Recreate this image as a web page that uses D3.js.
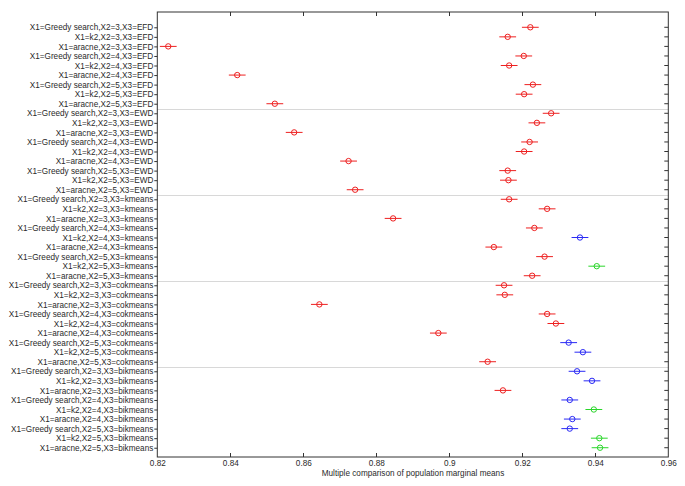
<!DOCTYPE html>
<html>
<head>
<meta charset="utf-8">
<script src="https://cdn.jsdelivr.net/npm/d3@7"></script>
<style>
  html, body { margin: 0; padding: 0; background: #fff; }
  svg { display: block; font-family: "Liberation Sans", Arial, Helvetica, sans-serif; }
</style>
</head>
<body>
<svg id="chart" width="685" height="486"></svg>
<script>
// ---- data ----
const methods = ["Greedy search", "k2", "aracne"];
const x2Values = [3, 4, 5];
const x3Values = ["EFD", "EWD", "kmeans", "cokmeans", "bikmeans"];

const means = [
  0.9222, 0.9160, 0.8230, 0.9204, 0.9164, 0.8419, 0.9229, 0.9205, 0.8522,
  0.9279, 0.9240, 0.8575, 0.9220, 0.9205, 0.8724, 0.9160, 0.9162, 0.8742,
  0.9164, 0.9268, 0.8846, 0.9233, 0.9358, 0.9122, 0.9261, 0.9404, 0.9227,
  0.9150, 0.9152, 0.8644, 0.9268, 0.9292, 0.8970, 0.9327, 0.9366, 0.9105,
  0.9350, 0.9391, 0.9147, 0.9330, 0.9396, 0.9337, 0.9330, 0.9411, 0.9413
];
const halfWidths = new Array(45).fill(0.0023);
const groupColors = [
  "r","r","r","r","r","r","r","r","r",
  "r","r","r","r","r","r","r","r","r",
  "r","r","r","r","b","r","r","g","r",
  "r","r","r","r","r","r","b","b","r",
  "b","b","r","b","g","b","b","g","g"
];
const xTicks = [0.82, 0.84, 0.86, 0.88, 0.9, 0.92, 0.94, 0.96];
const xLabel = "Multiple comparison of population marginal means";

const labels = [];
x3Values.forEach(d3v => x2Values.forEach(k => methods.forEach(m =>
  labels.push(`X1=${m},X2=${k},X3=${d3v}`))));

// ---- layout ----
const svg = d3.select("#chart");
const pL = 157.3, pR = 668.3, pT = 12, pB = 457;
const colorMap = { r: "#ee2020", b: "#2a2af5", g: "#2ad62a" };

const x = d3.scaleLinear().domain([0.82, 0.96]).range([pL, pR]);
const y = d3.scaleLinear().domain([-0.6, 45.97]).range([pT, pB]);
const rows = d3.range(1, labels.length + 1);

// group separators
svg.append("g").selectAll("line")
  .data([9.5, 18.5, 27.5, 36.5])
  .join("line")
  .attr("x1", pL).attr("x2", pR)
  .attr("y1", d => Math.round(y(d)) + 0.5).attr("y2", d => Math.round(y(d)) + 0.5)
  .attr("stroke", "#d8d8d8").attr("stroke-width", 1);

// axes
const axisColor = "#333";
const textColor = "#2a2a2a";
const bottomAxis = d3.axisBottom(x).tickValues(xTicks).tickFormat(d3.format("")).tickSize(0).tickPadding(3);
const gB = svg.append("g").attr("transform", `translate(0,${pB})`).call(bottomAxis);
gB.select(".domain").remove();
gB.selectAll("text").attr("font-size", 8.2).attr("fill", textColor);

// tick marks inside (top and bottom)
const innerTicks = xTicks.slice(1, -1);
svg.append("g").selectAll("line").data(innerTicks).join("line")
  .attr("x1", d => Math.round(x(d)) + 0.5).attr("x2", d => Math.round(x(d)) + 0.5)
  .attr("y1", pB).attr("y2", pB - 4).attr("stroke", axisColor);
svg.append("g").selectAll("line").data(innerTicks).join("line")
  .attr("x1", d => Math.round(x(d)) + 0.5).attr("x2", d => Math.round(x(d)) + 0.5)
  .attr("y1", pT).attr("y2", pT + 4).attr("stroke", axisColor);

// y axis left (ticks outward) with labels
const leftAxis = d3.axisLeft(y).tickValues(rows).tickFormat(i => labels[i - 1]).tickSize(3).tickPadding(1);
const gL = svg.append("g").attr("transform", `translate(${pL},0)`).call(leftAxis);
gL.select(".domain").remove();
gL.selectAll("line").attr("stroke", axisColor);
gL.selectAll("text").attr("font-size", 8.2).attr("fill", textColor);

// right ticks inward
svg.append("g").selectAll("line").data(rows).join("line")
  .attr("x1", pR - 4).attr("x2", pR)
  .attr("y1", d => y(d)).attr("y2", d => y(d)).attr("stroke", axisColor);

// frame
svg.append("rect")
  .attr("x", pL).attr("y", pT)
  .attr("width", pR - pL).attr("height", pB - pT)
  .attr("fill", "none").attr("stroke", axisColor).attr("stroke-width", 1);

// x label
svg.append("text")
  .attr("x", 413).attr("y", 476)
  .attr("text-anchor", "middle").attr("font-size", 8.2).attr("fill", textColor)
  .text(xLabel);

// intervals and means
const marks = svg.append("g");
marks.selectAll("line").data(rows).join("line")
  .attr("x1", i => Math.max(pL, x(means[i - 1] - halfWidths[i - 1])))
  .attr("x2", i => x(means[i - 1] + halfWidths[i - 1]))
  .attr("y1", i => y(i)).attr("y2", i => y(i))
  .attr("stroke", i => colorMap[groupColors[i - 1]]).attr("stroke-width", 1);
marks.selectAll("circle").data(rows).join("circle")
  .attr("cx", i => x(means[i - 1])).attr("cy", i => y(i)).attr("r", 2.7)
  .attr("fill", "none")
  .attr("stroke", i => colorMap[groupColors[i - 1]]).attr("stroke-width", 1);
</script>
</body>
</html>
